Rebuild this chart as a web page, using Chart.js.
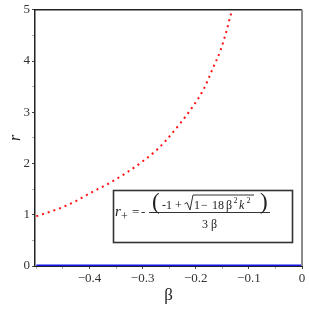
<!DOCTYPE html>
<html>
<head>
<meta charset="utf-8">
<script src="https://cdn.jsdelivr.net/npm/chart.js@4.4.1/dist/chart.umd.min.js"></script>
<style>
  html, body { margin: 0; padding: 0; background: #fff; }
  #wrap { width: 309px; height: 309px; }
</style>
</head>
<body>
<div id="wrap"><canvas id="plot" width="309" height="309"></canvas></div>
<script>
// r+ branch
const betaPlus = [-0.500, -0.455, -0.427, -0.399, -0.364, -0.329, -0.295, -0.273, -0.257, -0.231, -0.207, -0.185, -0.169, -0.153, -0.141, -0.133, -0.130];
const rPlus    = [0.97, 1.13, 1.26, 1.42, 1.61, 1.83, 2.08, 2.27, 2.44, 2.76, 3.09, 3.45, 3.83, 4.22, 4.63, 4.94, 5.00];

// r- branch (flat at zero)
const betaMinus = [-0.5, 0];
const rMinus    = [0, 0];

const xTickValues = [-0.5, -0.45, -0.4, -0.35, -0.3, -0.25, -0.2, -0.15, -0.1, -0.05, 0];
const xTickLabels = ['', '', '\u22120.4', '', '\u22120.3', '', '\u22120.2', '', '\u22120.1', '', '0'];
const yTickValues = [0, 0.5, 1, 1.5, 2, 2.5, 3, 3.5, 4, 4.5, 5];
const yTickLabels = ['0', '', '1', '', '2', '', '3', '', '4', '', '5'];

const serif = '"Liberation Serif", "DejaVu Serif", serif';

// frame (top + right) and the formula box
const framePlugin = {
  id: 'frame',
  afterDraw(chart) {
    const ctx = chart.ctx;
    const a = chart.chartArea;
    ctx.save();
    ctx.strokeStyle = '#222';
    ctx.lineWidth = 1.5;
    ctx.beginPath();
    ctx.moveTo(a.left, a.top);
    ctx.lineTo(a.right, a.top);
    ctx.stroke();
    ctx.strokeStyle = '#8a8a8a';
    ctx.lineWidth = 2;
    ctx.beginPath();
    ctx.moveTo(a.right, a.top);
    ctx.lineTo(a.right, a.bottom);
    ctx.stroke();

    // legend box
    ctx.fillStyle = '#fff';
    ctx.fillRect(114, 191, 178, 51);
    ctx.strokeStyle = '#333';
    ctx.lineWidth = 1.6;
    ctx.strokeRect(113.5, 190.5, 179, 52);

    ctx.fillStyle = '#222';
    ctx.textBaseline = 'alphabetic';
    ctx.textAlign = 'left';
    function put(txt, x, y, font) {
      ctx.font = font;
      ctx.fillText(txt, x, y);
    }
    const f12 = '12px ' + serif;
    const i12 = 'italic 12px ' + serif;
    const f8 = '8px ' + serif;

    put('r', 115, 216, 'italic 15px ' + serif);
    put('+', 121, 220, '12px ' + serif);
    put('=', 132, 216, '13px ' + serif);
    put('-', 141, 216, '13px ' + serif);

    // fraction bar
    ctx.strokeStyle = '#333';
    ctx.lineWidth = 1;
    ctx.beginPath();
    ctx.moveTo(149, 212.5);
    ctx.lineTo(270, 212.5);
    ctx.stroke();

    // numerator
    put('(', 152, 209, '23px ' + serif);
    put('-1', 162, 209, f12);
    put('+', 175, 209, f12);
    // radical
    ctx.beginPath();
    ctx.moveTo(184.5, 204);
    ctx.lineTo(187, 202.5);
    ctx.lineTo(190, 210);
    ctx.lineTo(193, 195);
    ctx.lineTo(254, 195);
    ctx.stroke();
    put('1', 194, 209, f12);
    put('\u2212', 201, 209, f12);
    put('18', 212, 209, f12);
    put('\u03b2', 226, 209, f12);
    put('2', 233.5, 203, f8);
    put('k', 239, 209, i12);
    put('2', 246.5, 203, f8);
    put(')', 260, 209, '23px ' + serif);

    // denominator
    put('3', 202, 228, f12);
    put('\u03b2', 211, 228, f12);
    ctx.restore();
  }
};

const ctx = document.getElementById('plot').getContext('2d');
new Chart(ctx, {
  type: 'scatter',
  data: {
    datasets: [{
      label: 'r+',
      data: betaPlus.map((b, i) => ({ x: b, y: rPlus[i] })),
      showLine: true,
      borderColor: 'rgb(255, 20, 20)',
      borderWidth: 2,
      borderDash: [2, 4],
      borderCapStyle: 'butt',
      cubicInterpolationMode: 'monotone',
      pointRadius: 0,
      fill: false
    }, {
      label: 'r-',
      data: betaMinus.map((b, i) => ({ x: b, y: rMinus[i] })),
      showLine: true,
      borderColor: 'rgb(20, 20, 235)',
      borderWidth: 3,
      pointRadius: 0,
      fill: false
    }]
  },
  options: {
    responsive: false,
    animation: false,
    events: [],
    layout: { padding: { top: 9, right: 7, left: 0, bottom: 0 } },
    plugins: { legend: { display: false }, tooltip: { enabled: false } },
    scales: {
      x: {
        type: 'linear',
        min: -0.5025,
        max: 0,
        afterBuildTicks: s => { s.ticks = xTickValues.map(v => ({ value: v })); },
        afterFit: s => { s.height = 43; },
        ticks: {
          autoSkip: false,
          maxRotation: 0,
          padding: 2,
          color: '#333',
          font: { family: serif, size: 13 },
          callback: (v, i) => xTickLabels[i]
        },
        grid: {
          drawOnChartArea: false,
          drawTicks: true,
          tickLength: 3,
          tickColor: c => (xTickLabels[c.index] ? '#444' : '#aaa')
        },
        border: { display: true, color: '#222', width: 1 },
        title: {
          display: true,
          text: '\u03b2',
          color: '#222',
          font: { family: serif, size: 17 },
          padding: { top: 0, bottom: 3 }
        }
      },
      y: {
        type: 'linear',
        min: 0,
        max: 5,
        afterBuildTicks: s => { s.ticks = yTickValues.map(v => ({ value: v })); },
        afterFit: s => { s.width = 35; },
        ticks: {
          autoSkip: false,
          padding: 2,
          color: '#333',
          font: { family: serif, size: 13 },
          callback: (v, i) => yTickLabels[i]
        },
        grid: {
          drawOnChartArea: false,
          drawTicks: true,
          tickLength: 3,
          tickColor: c => (yTickLabels[c.index] ? '#444' : '#aaa')
        },
        border: { display: true, color: '#222', width: 1.5 },
        title: {
          display: true,
          text: 'r',
          color: '#222',
          font: { family: serif, size: 16, style: 'italic' },
          padding: { top: 6, bottom: 0 }
        }
      }
    }
  },
  plugins: [framePlugin]
});
</script>
</body>
</html>
